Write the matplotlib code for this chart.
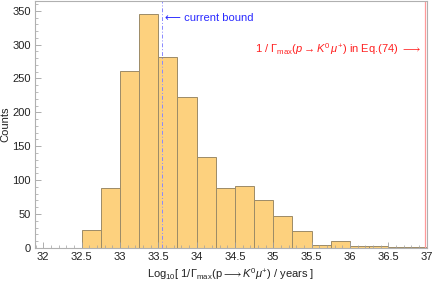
import numpy as np
import matplotlib
matplotlib.use("Agg")
import matplotlib.pyplot as plt
from matplotlib.ticker import MultipleLocator

plt.rcParams["font.family"] = ["Liberation Sans", "DejaVu Sans"]
plt.rcParams["mathtext.fontset"] = "custom"
plt.rcParams["mathtext.rm"] = "Liberation Sans"
plt.rcParams["mathtext.it"] = "Liberation Sans:italic"
plt.rcParams["mathtext.fallback"] = "stixsans"

# histogram data (bin width 0.25)
bin_edges = [32.5, 32.75, 33.0, 33.25, 33.5, 33.75, 34.0, 34.25, 34.5, 34.75,
             35.0, 35.25, 35.5, 35.75, 36.0, 36.25, 36.5, 36.75, 37.0]
counts = [26, 88, 261, 345, 281, 222, 134, 89, 91, 70, 47, 25, 5, 10, 3, 3, 1, 1]
current_bound = 33.55
eq74_bound = 36.98

fig = plt.figure(figsize=(4.36, 2.83), dpi=100)
ax = fig.add_axes([0.080, 0.124, 0.900, 0.874])

widths = np.diff(bin_edges)
ax.bar(bin_edges[:-1], counts, width=widths, align="edge",
       color="#FDD17E", edgecolor="#9C8B67", linewidth=0.7)

ax.axvline(current_bound, color="#8888FF", lw=0.7, ls=(0, (4, 2, 1, 2)))
ax.axvline(eq74_bound, color="#FF9A9A", lw=0.9)

ax.text(current_bound + 0.04, 340, "⟵ current bound", color="#2A2AFF",
        fontsize=8, va="center", ha="left")
ax.text(eq74_bound - 0.05, 293,
        r"1 / $\Gamma_{\rm max}$($p\rightarrow K^0\,\mu^{+}$) in Eq.(74) $\longrightarrow$",
        color="#FF2020", fontsize=8, va="center", ha="right")

ax.set_xlim(31.89, 37.01)
ax.set_ylim(0, 365)
ax.xaxis.set_minor_locator(MultipleLocator(0.1))
ax.yaxis.set_major_locator(MultipleLocator(50))
ax.yaxis.set_minor_locator(MultipleLocator(10))
ax.set_xticks([32, 32.5, 33, 33.5, 34, 34.5, 35, 35.5, 36, 36.5, 37])
ax.set_xticklabels(["32", "32.5", "33", "33.5", "34", "34.5", "35", "35.5",
                    "36", "36.5", "37"])
ax.tick_params(which="both", direction="in", color="#A0A0A0", labelsize=8,
               labelcolor="#222222", pad=3)
ax.tick_params(which="major", length=4, width=0.6)
ax.tick_params(which="minor", length=2, width=0.5)
for s in ax.spines.values():
    s.set_color("#B0B0B0")
    s.set_linewidth(0.8)

ax.set_ylabel("Counts", fontsize=8, color="#222222", labelpad=0)
ax.yaxis.set_label_coords(-0.062, 0.5)
ax.set_xlabel(r"Log$_{10}$[ 1/$\Gamma_{\rm max}$(p$\longrightarrow K^0\mu^{+}$) / years ]",
              fontsize=8, color="#222222", va="center")
ax.xaxis.set_label_coords(0.5, -0.107)

fig.savefig("out.png", dpi=100)
